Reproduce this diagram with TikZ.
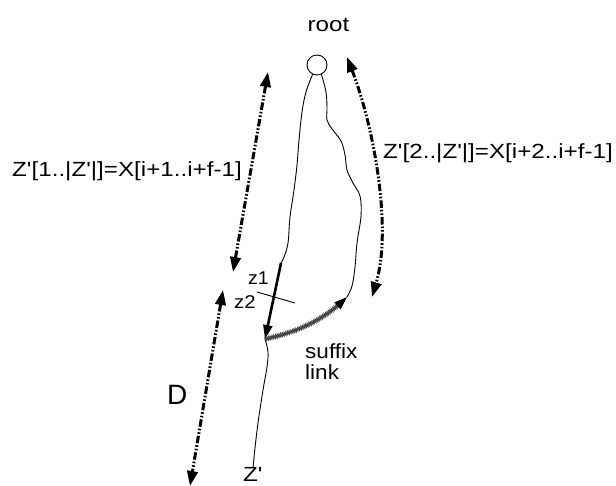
\documentclass[tikz,border=0pt]{standalone}
\usepackage{fontspec}
% plain family: keeps the straight apostrophe
\newfontfamily\labelfont{Liberation Sans}
\usetikzlibrary{arrows.meta,decorations.pathmorphing}
% horizontally widened lettering
\newcommand{\wtext}[1]{\scalebox{1.18}[1]{#1}}

\begin{document}
\begin{tikzpicture}[x=1pt,y=-1pt,
  lbl/.style={inner sep=0pt, font=\labelfont\fontsize{20.5}{21}\selectfont},
  small/.style={inner sep=0pt, font=\labelfont\fontsize{18.5}{20}\selectfont},
  big/.style={inner sep=0pt, font=\labelfont\fontsize{28}{30}\selectfont},
  span/.style={line width=3pt,
    dash pattern=on 7.5pt off 2pt on 1.6pt off 2pt on 1.6pt off 2pt,
    {Triangle[length=15pt,width=10.5pt]}-{Triangle[length=15pt,width=10.5pt]}},
  branch/.style={line width=0.9pt, line join=round, line cap=round},
  suffixlink/.style={line width=1.4pt, gray!55!black, decorate,
    decoration={zigzag, segment length=1.8pt, amplitude=1.2pt,
      post=lineto, post length=11pt},
    -{Triangle[length=13pt,width=9pt,black]}},
]
\useasboundingbox (0,0) rectangle (616,486);
\clip (0,0) rectangle (616,486);

% root of the tree
\node[circle, draw, line width=0.9pt, minimum size=20pt, inner sep=0pt] (root) at (317,65) {};
\node[lbl, anchor=base] (rootlbl) at (328.5,32) {\wtext{root}};

% path positions
\coordinate (z1top) at (281,263);
\coordinate (zpt)   at (265,339);
\coordinate (zend)  at (253,468);
\coordinate (sfend) at (347,297);

% left branch down to z1, then the bold step to the z2 position
\draw[branch] plot[smooth, tension=0.6] coordinates {(root.245) (306,92) (302,112) (299,140)
  (297,165) (294,190) (290,217) (288,243) (284,257) (z1top)};
\draw[line width=2.6pt, -{Triangle[length=14pt,width=9pt]}] (z1top) -- (zpt);
\draw[branch] plot[smooth, tension=0.6] coordinates {(zpt) (268,352) (267,367) (263,390)
  (258,423) (255,448) (zend)};

% right branch
\draw[branch] plot[smooth, tension=0.6] coordinates {(root.295) (326,92) (327,108) (327,120)
  (332,129) (341,141) (345,155) (347,170) (353,183) (360,196) (361,216) (357,243)
  (355,267) (352,286) (sfend)};

% suffix link
\draw[suffixlink] (zpt) .. controls (298,332) and (324,320) .. (sfend);

% cut mark between z1 and z2
\coordinate (cutA) at (257,292);
\coordinate (cutB) at (295,303);
\draw[line width=0.9pt] (cutA) -- (cutB);

% span arrows
\coordinate (la1) at (268,72);
\coordinate (la2) at (233,272);
\coordinate (lb1) at (223,290);
\coordinate (lb2) at (190,486);
\coordinate (ra1) at (347,57);
\coordinate (ra2) at (372,297);
\draw[span] (la1) -- (la2);
\draw[span] (lb1) -- (lb2);
\draw[span] (ra1) .. controls (375,130) and (392,230) .. (ra2);

% labels
\node[lbl, anchor=base west] (lefteq) at (12,177) {\wtext{Z'[1..|Z'|]=X[i+1..i+f-1]}};
\node[lbl, anchor=base west] (righteq) at (383,159) {\wtext{Z'[2..|Z'|]=X[i+2..i+f-1]}};
\node[small, anchor=base west] (z1lbl) at (248,285) {\scalebox{1.05}[1]{z1}};
\node[small, anchor=base west] (z2lbl) at (234,309) {\scalebox{1.1}[1]{z2}};
\node[lbl, anchor=base west] (sflbl) at (305,359) {\scalebox{1.1}[1]{suffix}};
\node[lbl, anchor=base west] (lklbl) at (305,380) {\scalebox{1.1}[1]{link}};
\node[big, anchor=base west] (dlbl) at (167,404) {D};
\node[lbl, anchor=base west] (zplbl) at (243,481) {\wtext{Z'}};
\end{tikzpicture}
\end{document}
